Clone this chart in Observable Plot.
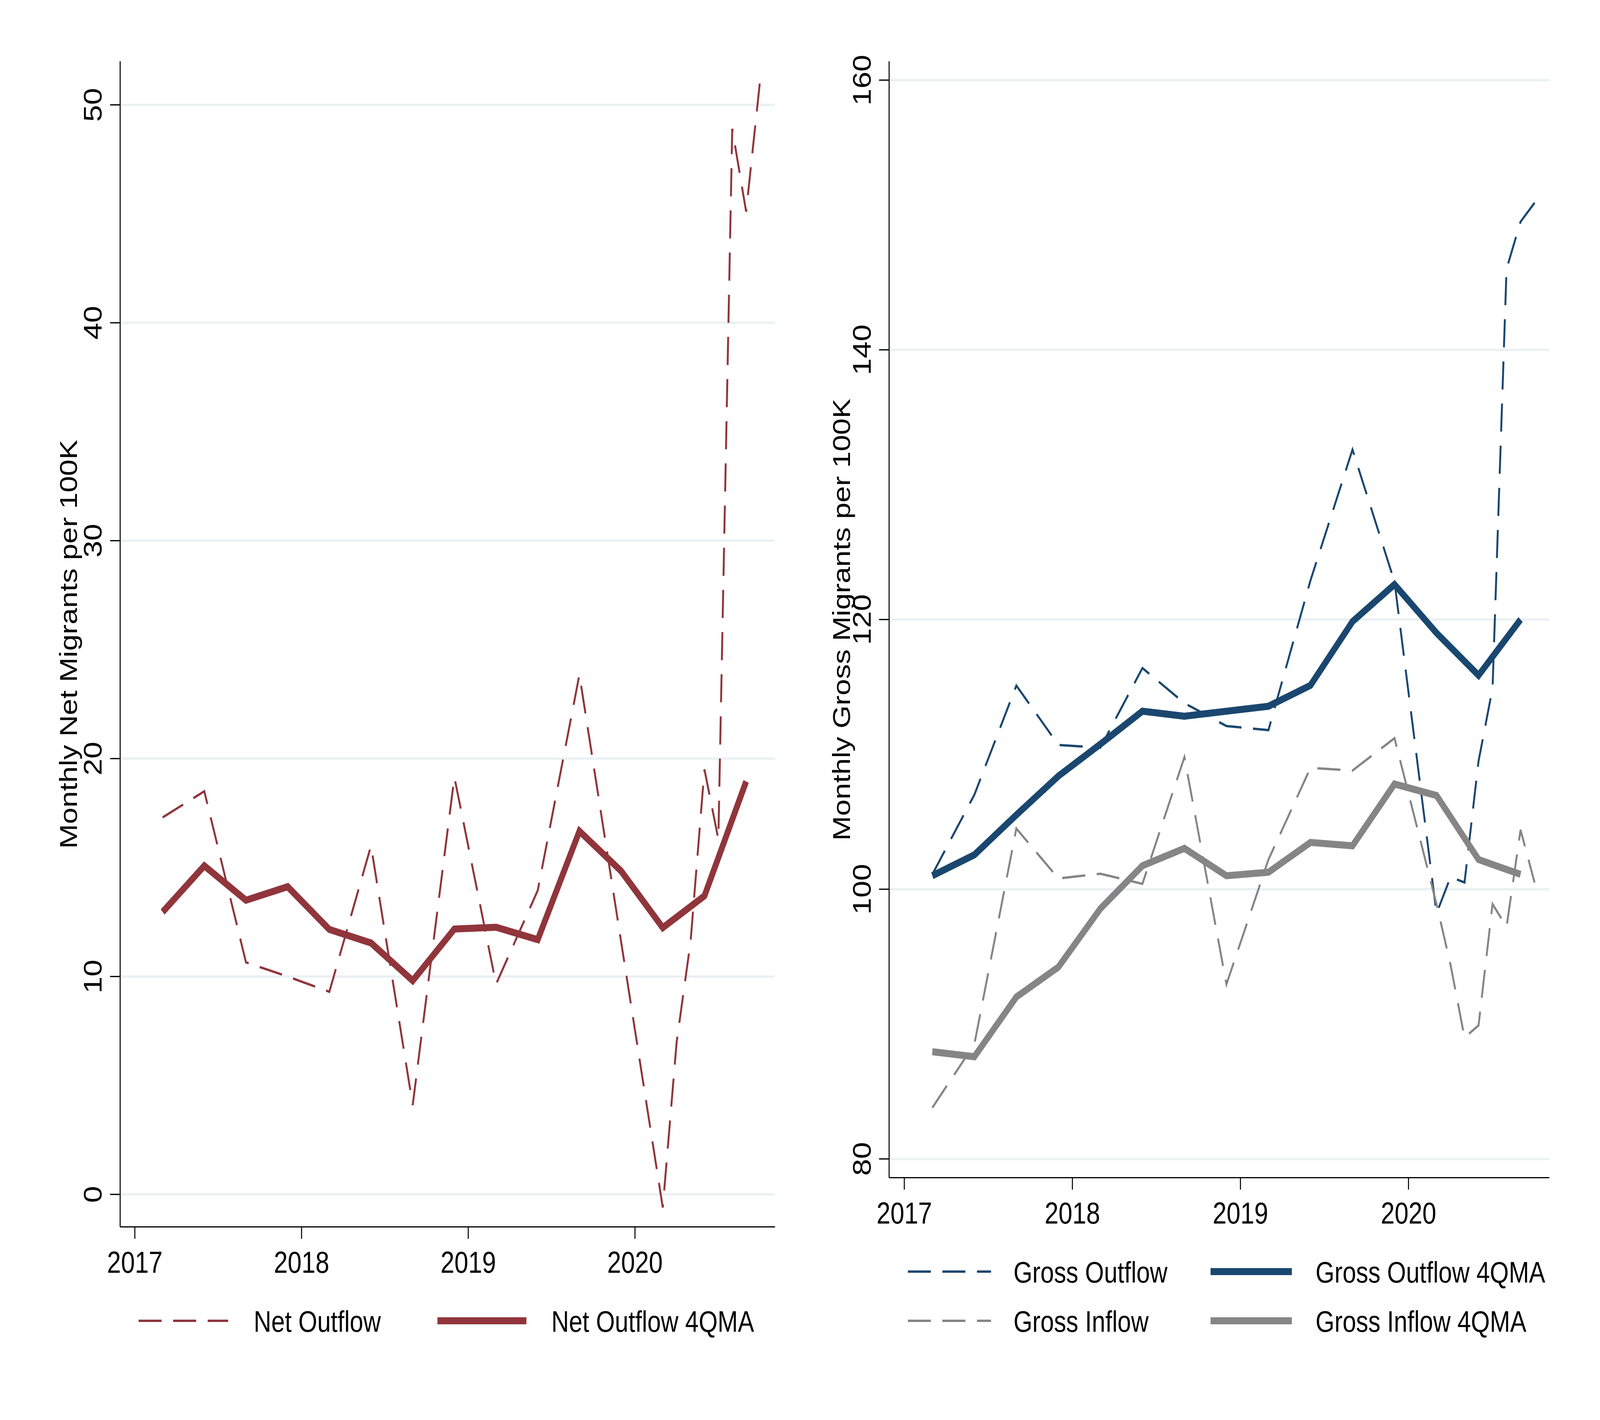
<!DOCTYPE html>
<html>
<head>
<meta charset="utf-8">
<script src="https://cdn.jsdelivr.net/npm/d3@7"></script>
<script src="https://cdn.jsdelivr.net/npm/@observablehq/plot@0.6"></script>
<style>
  html, body { margin: 0; padding: 0; background: #ffffff; overflow: hidden; }
  #outer { position: relative; width: 5000px; height: 3636px; overflow: hidden; background: #ffffff; }
  #wrap { position: absolute; left: 0; top: 0; width: 5000px; height: 3636px; background: #ffffff; overflow: hidden; transform-origin: 0 0; }
  #wrap > * { position: absolute; }
</style>
</head>
<body>
<div id="outer"><div id="wrap"></div></div>
<script>
// ---------------- data ----------------
const monthlyDates = ["2017-03","2017-06","2017-09","2017-12","2018-03","2018-06","2018-09","2018-12",
  "2019-03","2019-06","2019-09","2019-12","2020-03","2020-04","2020-05","2020-06","2020-07","2020-08","2020-09","2020-10"];
const maDates = ["2017-03","2017-06","2017-09","2017-12","2018-03","2018-06","2018-09","2018-12",
  "2019-03","2019-06","2019-09","2019-12","2020-03","2020-06","2020-09"];

const netOutflow   = [17.3,18.5,10.65,10.0,9.3,16.0,4.1,19.15,9.65,13.95,23.85,11.6,-0.6,7.0,11.6,19.5,16.3,48.9,45.1,51.1];
const netOutflowMA = [12.96,15.08,13.5,14.12,12.16,11.54,9.81,12.18,12.26,11.69,16.67,14.84,12.24,13.7,18.95];

const grossOutflow   = [101.1,107.0,115.1,110.7,110.5,116.4,113.8,112.1,111.8,122.9,132.6,122.8,98.2,100.9,100.5,109.5,114.9,146.0,149.5,150.9];
const grossInflow    = [83.8,88.5,104.5,100.8,101.15,100.4,109.8,92.95,102.2,109.0,108.8,111.2,98.9,94.4,89.0,89.9,98.9,97.2,104.4,100.5];
const grossOutflowMA = [101.0,102.55,105.51,108.39,110.76,113.2,112.83,113.2,113.57,115.12,119.85,122.6,119.0,115.86,120.0];
const grossInflowMA  = [87.95,87.58,92.01,94.23,98.56,101.74,103.03,101.0,101.26,103.47,103.22,107.8,106.95,102.2,101.1];

const xTicks = [2017, 2018, 2019, 2020];
const netTicks = [0, 10, 20, 30, 40, 50];
const grossTicks = [80, 100, 120, 140, 160];

const netTitle = "Monthly Net Migrants per 100K";
const grossTitle = "Monthly Gross Migrants per 100K";
const netLabels = ["Net Outflow", "Net Outflow 4QMA"];
const grossLabels = ["Gross Outflow", "Gross Outflow 4QMA", "Gross Inflow", "Gross Inflow 4QMA"];

// ---------------- helpers ----------------
const toYear = s => { const [y, m] = s.split("-").map(Number); return y + (m - 1) / 12; };
const rows = (dates, vals) => dates.map((d, i) => ({t: toYear(d), v: vals[i]}));

const CRAN = "#90353b", NAVY = "#1a476f", GRAY = "#858585", GRID = "#eaf1f3";
const FONT = "'Liberation Sans', Arial, Helvetica, sans-serif";
const FS_TICK = 78, FS = 76;
const THIN = 6, THICK = 18, DASH = "72,36", AX = 3.2;

function panel({width, height, mL, mR, mT, mB, xDom, yDom, yTicks, title, titleDx, series}) {
  return Plot.plot({
    width, height,
    marginLeft: mL, marginRight: mR, marginTop: mT, marginBottom: mB,
    style: {fontFamily: FONT, fontSize: FS_TICK + "px", background: "white", color: "black", overflow: "visible", maxWidth: "none"},
    x: {domain: xDom, label: null},
    y: {domain: yDom, label: null},
    marks: [
      Plot.gridY(yTicks, {stroke: GRID, strokeOpacity: 1, strokeWidth: 6}),
      ...series.map(s => Plot.line(s.data, {
        x: "t", y: "v", stroke: s.color, strokeWidth: s.dashed ? THIN : THICK,
        strokeDasharray: s.dashed ? DASH : null, strokeLinecap: "butt", strokeLinejoin: "miter", strokeMiterlimit: 4
      })),
      Plot.ruleX([xDom[0]], {stroke: "black", strokeWidth: AX}),
      Plot.ruleY([yDom[0]], {stroke: "black", strokeWidth: AX}),
      Plot.axisX(xTicks, {tickFormat: "d", tickSize: 31, tickPadding: 31, strokeWidth: AX,
        fontSize: FS_TICK, fill: "black", label: null}),
      Plot.axisY(yTicks, {tickFormat: "d", tickRotate: -90, tickSize: 31, tickPadding: 27, strokeWidth: AX,
        fontSize: FS_TICK, fill: "black", label: null}),
      Plot.text([title], {text: d => d, frameAnchor: "left", rotate: -90, dx: titleDx,
        lineAnchor: "bottom", textAnchor: "middle", fontSize: FS, fill: "black"})
    ]
  });
}

const wrap = document.getElementById("wrap");
const outer = document.getElementById("outer");

// Left panel
const left = panel({
  width: 2500, height: 3300, mL: 375, mR: 78, mT: 157, mB: 159,
  xDom: [2016.912, 2020.841], yDom: [-1.49, 51.99], yTicks: netTicks,
  title: netTitle, titleDx: -135,
  series: [
    {data: rows(monthlyDates, netOutflow), color: CRAN, dashed: true},
    {data: rows(maDates, netOutflowMA), color: CRAN, dashed: false}
  ]
});
left.style.left = "0px"; left.style.top = "0px";
wrap.appendChild(left);

// Right panel
const right = panel({
  width: 2500, height: 3150, mL: 278, mR: 158, mT: 157, mB: 135,
  xDom: [2016.9096, 2020.8395], yDom: [78.61, 161.38], yTicks: grossTicks,
  title: grossTitle, titleDx: -122,
  series: [
    {data: rows(monthlyDates, grossOutflow), color: NAVY, dashed: true},
    {data: rows(monthlyDates, grossInflow), color: GRAY, dashed: true},
    {data: rows(maDates, grossOutflowMA), color: NAVY, dashed: false},
    {data: rows(maDates, grossInflowMA), color: GRAY, dashed: false}
  ]
});
right.style.left = "2500px"; right.style.top = "0px";
wrap.appendChild(right);

// ---------------- legends (below the plots) ----------------
function legend(left, top, w, h, items) {
  const svg = d3.create("svg").attr("width", w).attr("height", h)
    .style("left", left + "px").style("top", top + "px").style("overflow", "visible");
  for (const it of items) {
    svg.append("line").attr("x1", it.x1).attr("x2", it.x2).attr("y1", it.y).attr("y2", it.y)
      .attr("stroke", it.color).attr("stroke-width", it.dashed ? THIN : THICK)
      .attr("stroke-dasharray", it.dashed ? DASH : null).attr("stroke-linecap", "butt");
    svg.append("text").attr("x", it.tx).attr("y", it.y + 28).text(it.label)
      .attr("font-family", FONT).attr("font-size", FS).attr("fill", "black");
  }
  wrap.appendChild(svg.node());
}

legend(0, 3300, 2500, 336, [
  {x1: 433, x2: 713, y: 82, color: CRAN, dashed: true, tx: 793, label: netLabels[0]},
  {x1: 1367, x2: 1645, y: 82, color: CRAN, dashed: false, tx: 1723, label: netLabels[1]}
]);

legend(2500, 3150, 2500, 486, [
  {x1: 337, x2: 597, y: 106, color: NAVY, dashed: true, tx: 667, label: grossLabels[0]},
  {x1: 1283, x2: 1537, y: 106, color: NAVY, dashed: false, tx: 1611, label: grossLabels[1]},
  {x1: 337, x2: 597, y: 232, color: GRAY, dashed: true, tx: 667, label: grossLabels[2]},
  {x1: 1283, x2: 1537, y: 232, color: GRAY, dashed: false, tx: 1611, label: grossLabels[3]}
]);

// The browser viewport may be narrower than the requested 5000x3636 window
// (it is capped); map the 5000x3636 design onto whatever viewport we get.
function fit() {
  let sx = window.innerWidth / 5000, sy = window.innerHeight / 3636;
  if (Math.abs(sx - 1) < 0.001) sx = 1;
  if (Math.abs(sy - 1) < 0.001) sy = 1;
  wrap.style.transform = (sx === 1 && sy === 1) ? "none" : `scale(${sx}, ${sy})`;
  outer.style.width = (5000 * sx) + "px";
  outer.style.height = (3636 * sy) + "px";
}
fit();
window.addEventListener("resize", fit);
</script>
</body>
</html>
